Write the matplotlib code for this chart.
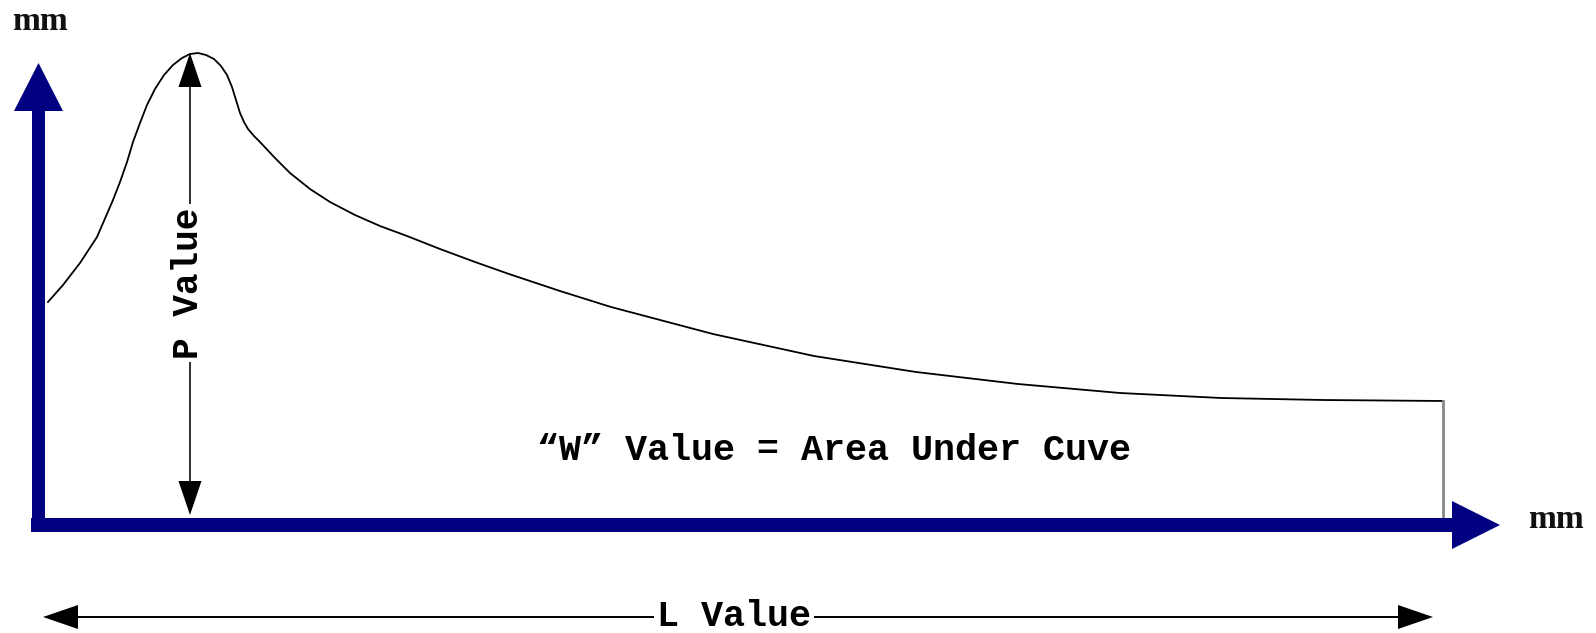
import matplotlib.pyplot as plt

# curve (units: px from the axis corner, y up)
curve_x = [8, 23, 40, 57, 73, 80, 87, 93, 100, 107, 115, 124, 133, 142, 150, 158, 166,
           174, 181, 187, 192, 196, 200, 204, 208, 214, 220, 235, 250, 270, 290, 315,
           340, 367, 400, 435, 469, 520, 571, 673, 774, 876, 978, 1080, 1181, 1283, 1403]
curve_y = [223, 240, 262, 288, 325, 343, 363, 383, 402, 420, 436, 450, 460, 467, 471, 472, 470,
           466, 459, 450, 438, 425, 412, 403, 396, 389, 383, 367, 352, 336, 323, 310,
           299, 289, 276, 263, 251, 234, 218, 191, 169, 153, 141, 132, 127, 125, 124]

peak_x = 150
peak_y = 472
end_x = 1403
l_start, l_end = 3, 1393
axis_len_x = 1460
axis_len_y = 462

axis_unit = 'mm'
p_label = 'P Value'
l_label = 'L Value'
w_label = '\u201cW\u201d Value = Area Under Cuve'

navy = '#000080'
mono = ['Liberation Mono', 'DejaVu Sans Mono']
serif = ['Liberation Serif', 'DejaVu Serif']

fig = plt.figure(figsize=(15.96, 6.33), dpi=100)
ax = fig.add_axes([0, 0, 1, 1])
ax.set_xlim(-40, 1556)
ax.set_ylim(-108, 525)
ax.axis('off')

# axes arrows
ax.arrow(-9, 0, axis_len_x + 9, 0, width=14, head_width=48, head_length=48,
         length_includes_head=True, color=navy, lw=0, zorder=3)
ax.arrow(-1.5, -7, 0, axis_len_y + 7, width=13, head_width=49, head_length=48,
         length_includes_head=True, color=navy, lw=0, zorder=3)

# curve + drop line at the end
ax.plot(curve_x, curve_y, color='black', lw=1.3, solid_joinstyle='round')
ax.plot([end_x, end_x], [curve_y[-1], 7], color='#888888', lw=2)

# P value arrow
mid_p = 242
for y0, y1 in [(mid_p, peak_y), (mid_p, 10)]:
    ax.arrow(peak_x, y0, 0, y1 - y0, width=1.6, head_width=23, head_length=34,
             length_includes_head=True, color='black', lw=0)
ax.text(peak_x - 2, mid_p, p_label, rotation=90, ha='center', va='center',
        family=mono, fontsize=26, fontweight='bold',
        bbox=dict(facecolor='white', edgecolor='none', pad=2))

# L value arrow
mid_l = 694
for x0, x1 in [(mid_l, l_start), (mid_l, l_end)]:
    ax.arrow(x0, -92, x1 - x0, 0, width=2, head_width=24, head_length=35,
             length_includes_head=True, color='black', lw=0)
ax.text(mid_l, -92, l_label, ha='center', va='center', family=mono,
        fontsize=26.5, fontweight='bold',
        bbox=dict(facecolor='white', edgecolor='none', pad=2))

ax.text(794, 75, w_label, ha='center', va='center', family=mono,
        fontsize=26.5, fontweight='bold')

ax.text(0, 503, axis_unit, ha='center', va='center', family=serif,
        fontsize=24, fontweight='bold', color='#111111')
ax.text(1516, 5, axis_unit, ha='center', va='center', family=serif,
        fontsize=24, fontweight='bold', color='#111111')

fig.savefig('out.png', dpi=100)
